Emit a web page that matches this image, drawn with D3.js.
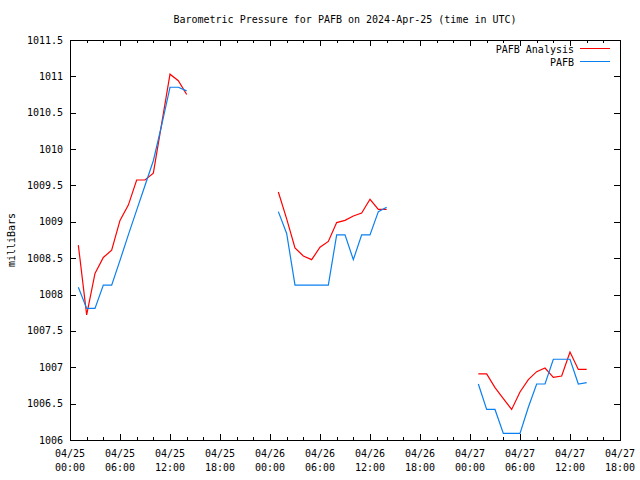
<!DOCTYPE html>
<html><head><meta charset="utf-8">
<script src="https://cdn.jsdelivr.net/npm/d3@7"></script>
<style>
html,body{margin:0;padding:0;background:#fff;}
svg text{font-family:"DejaVu Sans Mono",monospace;font-size:10px;fill:#000;}
</style></head>
<body><svg id="c" width="640" height="480"></svg>
<script>
const titleText = "Barometric Pressure for PAFB on 2024-Apr-25 (time in UTC)";
const yLabel = "milliBars";
const seriesNames = ["PAFB Analysis", "PAFB"];
const seriesColors = ["#ff0000", "#0a80f0"];

const times = [
  "2024-04-25T01:00Z","2024-04-25T02:00Z","2024-04-25T03:00Z","2024-04-25T04:00Z","2024-04-25T05:00Z","2024-04-25T06:00Z","2024-04-25T07:00Z",
  "2024-04-25T08:00Z","2024-04-25T09:00Z","2024-04-25T10:00Z","2024-04-25T11:00Z","2024-04-25T12:00Z","2024-04-25T13:00Z","2024-04-25T14:00Z",
  "2024-04-26T01:00Z","2024-04-26T02:00Z","2024-04-26T03:00Z","2024-04-26T04:00Z","2024-04-26T05:00Z","2024-04-26T06:00Z","2024-04-26T07:00Z",
  "2024-04-26T08:00Z","2024-04-26T09:00Z","2024-04-26T10:00Z","2024-04-26T11:00Z","2024-04-26T12:00Z","2024-04-26T13:00Z","2024-04-26T14:00Z",
  "2024-04-27T01:00Z","2024-04-27T02:00Z","2024-04-27T03:00Z","2024-04-27T04:00Z","2024-04-27T05:00Z","2024-04-27T06:00Z","2024-04-27T07:00Z",
  "2024-04-27T08:00Z","2024-04-27T09:00Z","2024-04-27T10:00Z","2024-04-27T11:00Z","2024-04-27T12:00Z","2024-04-27T13:00Z","2024-04-27T14:00Z"
];
const analysis = [
  1008.68, 1007.72, 1008.29, 1008.51, 1008.61, 1009.02, 1009.23,
  1009.575, 1009.575, 1009.67, 1010.35, 1011.03, 1010.94, 1010.75,
  1009.41, 1009.04, 1008.64, 1008.53, 1008.48, 1008.65, 1008.73,
  1008.99, 1009.02, 1009.08, 1009.12, 1009.31, 1009.17, 1009.17,
  1006.91, 1006.91, 1006.72, 1006.57, 1006.42, 1006.66, 1006.83,
  1006.94, 1006.99, 1006.86, 1006.88, 1007.21, 1006.97, 1006.97
];
const observed = [
  1008.10, 1007.81, 1007.81, 1008.13, 1008.13, 1008.47, 1008.82,
  1009.16, 1009.50, 1009.84, 1010.33, 1010.85, 1010.85, 1010.80,
  1009.14, 1008.84, 1008.13, 1008.13, 1008.13, 1008.13, 1008.13,
  1008.82, 1008.82, 1008.48, 1008.82, 1008.82, 1009.14, 1009.20,
  1006.77, 1006.42, 1006.42, 1006.09, 1006.09, 1006.09, 1006.45,
  1006.77, 1006.77, 1007.11, 1007.11, 1007.11, 1006.77, 1006.79
];
const yTicks = [1006, 1006.5, 1007, 1007.5, 1008, 1008.5, 1009, 1009.5, 1010, 1010.5, 1011, 1011.5];
const xStart = "2024-04-25T00:00Z", xEnd = "2024-04-27T18:00Z";

const svg = d3.select("#c");
const L = 70, R = 620, T = 40, B = 440;
const x = d3.scaleUtc().domain([new Date(xStart), new Date(xEnd)]).range([L, R]);
const y = d3.scaleLinear().domain([1006, 1011.5]).range([B, T]);

const dates = times.map(t => new Date(t));
const majorTicks = d3.utcHour.every(6).range(new Date(xStart), d3.utcHour.offset(new Date(xEnd), 1));
const minorTicks = d3.utcHour.every(2).range(new Date(xStart), d3.utcHour.offset(new Date(xEnd), 1));
const fmt1 = d3.utcFormat("%m/%d"), fmt2 = d3.utcFormat("%H:%M");

const g = svg.append("g");
// x ticks (bottom and top, inward)
minorTicks.forEach(d => {
  const isMajor = d.getUTCHours() % 6 === 0;
  const len = isMajor ? 6 : 3;
  const px = Math.round(x(d)) + 0.5;
  g.append("line").attr("x1", px).attr("x2", px).attr("y1", B).attr("y2", B - len).attr("stroke", "#000");
  g.append("line").attr("x1", px).attr("x2", px).attr("y1", T).attr("y2", T + len).attr("stroke", "#000");
});
majorTicks.forEach(d => {
  const px = x(d);
  g.append("text").attr("x", px).attr("y", 457).attr("text-anchor", "middle").text(fmt1(d));
  g.append("text").attr("x", px).attr("y", 471).attr("text-anchor", "middle").text(fmt2(d));
});
// y ticks
yTicks.forEach(v => {
  const py = Math.round(y(v)) + 0.5;
  g.append("line").attr("x1", L).attr("x2", L + 6).attr("y1", py).attr("y2", py).attr("stroke", "#000");
  g.append("line").attr("x1", R).attr("x2", R - 6).attr("y1", py).attr("y2", py).attr("stroke", "#000");
  g.append("text").attr("x", 63).attr("y", y(v) + 3.5).attr("text-anchor", "end").text(d3.format("")(v));
});
// border
g.append("rect").attr("x", L + 0.5).attr("y", T + 0.5).attr("width", R - L).attr("height", B - T)
  .attr("fill", "none").attr("stroke", "#000");

// lines with gaps
function mkLine(vals) {
  return d3.line()
    .defined((d, i) => true)
    .x((d, i) => x(dates[i]))
    .y(d => y(d));
}
function segments(vals) {
  const segs = [];
  let cur = [];
  vals.forEach((v, i) => {
    if (i > 0 && (dates[i] - dates[i - 1]) > 3600000) { segs.push(cur); cur = []; }
    cur.push([dates[i], v]);
  });
  segs.push(cur);
  return segs;
}
const line = d3.line().x(d => x(d[0])).y(d => y(d[1]));
[analysis, observed].forEach((vals, k) => {
  segments(vals).forEach(s => {
    svg.append("path").attr("d", line(s)).attr("fill", "none")
      .attr("stroke", seriesColors[k]).attr("stroke-width", 1.2);
  });
});

// title & y label
svg.append("text").attr("x", 345).attr("y", 23).attr("text-anchor", "middle").text(titleText);
svg.append("text").attr("transform", "translate(15,240) rotate(-90)").attr("text-anchor", "middle").text(yLabel);

// legend
seriesNames.forEach((n, k) => {
  const ly = 49 + k * 13;
  svg.append("text").attr("x", 574).attr("y", ly + 3.5).attr("text-anchor", "end").text(n);
  svg.append("line").attr("x1", 580).attr("x2", 610).attr("y1", ly - 0.5).attr("y2", ly - 0.5)
    .attr("stroke", seriesColors[k]).attr("stroke-width", 1);
});
</script></body></html>
